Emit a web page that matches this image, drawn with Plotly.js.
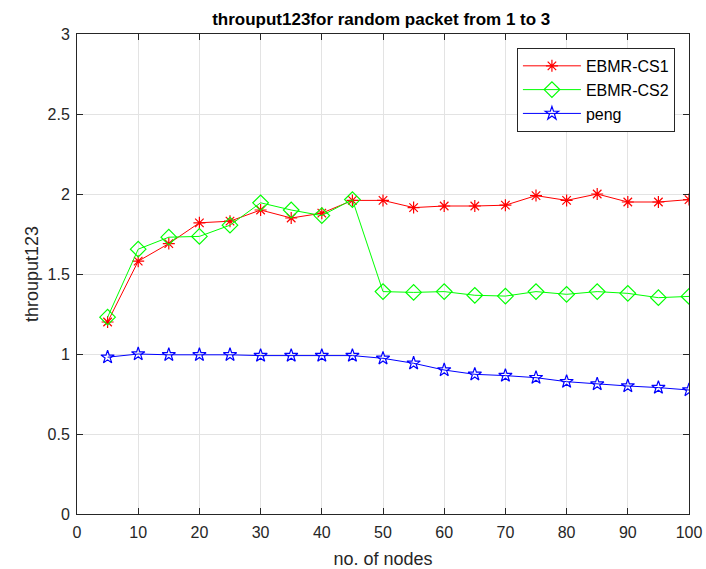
<!DOCTYPE html>
<html>
<head>
<meta charset="utf-8">
<script src="https://cdn.plot.ly/plotly-3.0.1.min.js"></script>
<style>html,body{margin:0;padding:0;background:#fff;}#chart{width:706px;height:569px;}</style>
</head>
<body>
<div id="chart"></div>
<script>
const nodes = [5,10,15,20,25,30,35,40,45,50,55,60,65,70,75,80,85,90,95,100];
const ebmrCS1 = [1.20,1.58,1.69,1.82,1.83,1.90,1.85,1.88,1.96,1.96,1.915,1.925,1.925,1.93,1.99,1.96,2.00,1.95,1.95,1.965];
const ebmrCS2 = [1.23,1.655,1.73,1.735,1.805,1.945,1.90,1.865,1.965,1.39,1.385,1.39,1.367,1.362,1.39,1.373,1.39,1.379,1.352,1.36];
const peng = [0.98,1.0,0.995,0.995,0.995,0.99,0.99,0.99,0.99,0.973,0.942,0.90,0.873,0.865,0.852,0.827,0.812,0.80,0.79,0.775];
const seriesNames = ['EBMR-CS1','EBMR-CS2','peng'];

const font = 'Liberation Sans, Arial, sans-serif';
const traces = [
  {x: nodes, y: ebmrCS1, name: seriesNames[0], mode: 'lines+markers',
   line: {color: '#ff0000', width: 1},
   marker: {symbol: 'asterisk-open', size: 10, color: '#ff0000', line: {color: '#ff0000', width: 1.2}}},
  {x: nodes, y: ebmrCS2, name: seriesNames[1], mode: 'lines+markers',
   line: {color: '#00ff00', width: 1},
   marker: {symbol: 'diamond-open', size: 12, color: '#00ff00', line: {color: '#00ff00', width: 1.2}}},
  {x: nodes, y: peng, name: seriesNames[2], mode: 'lines+markers',
   line: {color: '#0000ff', width: 1},
   marker: {symbol: 'star-open', size: 10, color: '#0000ff', line: {color: '#0000ff', width: 1.2}}}
];

const axisCommon = {
  showline: true, linecolor: '#262626', linewidth: 1, mirror: 'ticks',
  ticks: 'inside', ticklen: 6, tickcolor: '#262626', tickwidth: 1,
  showgrid: true, gridcolor: '#e3e3e3', gridwidth: 1, zeroline: false,
  tickfont: {family: font, size: 16, color: '#262626'}
};

const layout = {
  width: 706, height: 569,
  margin: {l: 77, r: 17, t: 34, b: 55},
  paper_bgcolor: '#ffffff', plot_bgcolor: '#ffffff',
  title: {text: '<b>throuput123for random packet from 1 to 3</b>', x: 0.54, xanchor: 'center', y: 0.967, yanchor: 'middle',
          font: {family: font, size: 17, color: '#000000'}},
  xaxis: Object.assign({}, axisCommon, {range: [0, 100], tickvals: [0,10,20,30,40,50,60,70,80,90,100],
          ticklabelstandoff: 4,
          title: {text: 'no. of nodes', font: {family: font, size: 18, color: '#262626'}, standoff: 13}}),
  yaxis: Object.assign({}, axisCommon, {range: [0, 3], tickvals: [0,0.5,1,1.5,2,2.5,3],
          ticklabelstandoff: 3,
          title: {text: 'throuput123', font: {family: font, size: 18, color: '#262626'}, standoff: 4}}),
  showlegend: true,
  legend: {x: 0.977, xanchor: 'right', y: 0.971, yanchor: 'top',
           bgcolor: '#ffffff', bordercolor: '#262626', borderwidth: 1,
           font: {family: font, size: 16, color: '#000000'}, tracegroupgap: 0, itemwidth: 58}
};

Plotly.newPlot('chart', traces, layout, {displayModeBar: false, staticPlot: true});
</script>
</body>
</html>
